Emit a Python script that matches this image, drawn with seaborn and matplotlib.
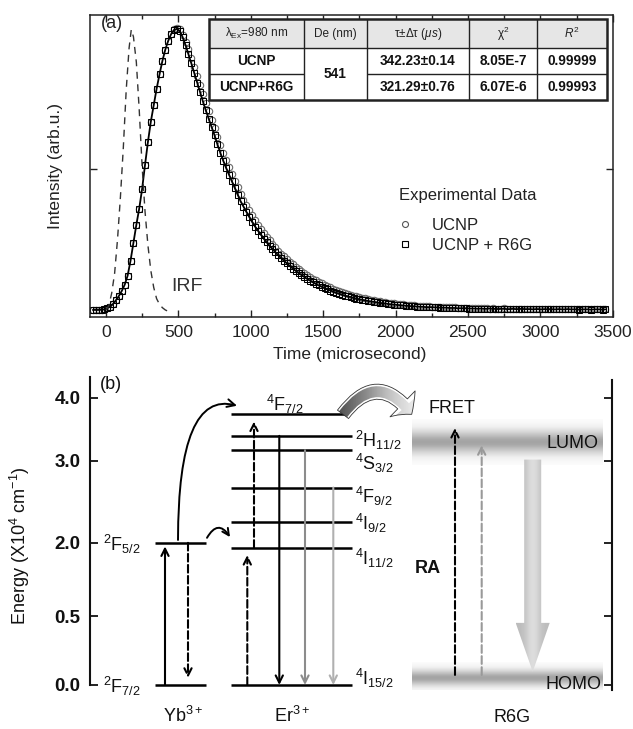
import numpy as np
import pandas as pd
import seaborn as sns
import matplotlib.pyplot as plt
from matplotlib.lines import Line2D
from matplotlib.patches import FancyArrowPatch, FancyArrow, Rectangle
from matplotlib.ticker import MultipleLocator


sns.set_theme(style='ticks')
plt.rcParams['font.family'] = ['Liberation Sans', 'DejaVu Sans']
plt.rcParams['mathtext.fontset'] = 'custom'
plt.rcParams['mathtext.rm'] = 'Liberation Sans'
plt.rcParams['mathtext.it'] = 'Liberation Sans:italic'
plt.rcParams['mathtext.bf'] = 'Liberation Sans:bold'

# ---- panel (a): decay curves ----
time_us = [-90, -70, -50, -30, -10, 10, 30, 50, 70, 90,
           110, 130, 150, 170, 190, 210, 230, 250, 270, 290,
           310, 330, 350, 370, 390, 410, 430, 450, 470, 490,
           510, 530, 550, 570, 590, 610, 630, 650, 670, 690,
           710, 730, 750, 770, 790, 810, 830, 850, 870, 890,
           910, 930, 950, 970, 990, 1010, 1030, 1050, 1070, 1090,
           1110, 1130, 1150, 1170, 1190, 1210, 1230, 1250, 1270, 1290,
           1310, 1330, 1350, 1370, 1390, 1410, 1430, 1450, 1470, 1490,
           1510, 1530, 1550, 1570, 1590, 1610, 1630, 1650, 1670, 1690,
           1710, 1730, 1750, 1770, 1790, 1810, 1830, 1850, 1870, 1890,
           1910, 1930, 1950, 1970, 1990, 2010, 2030, 2050, 2070, 2090,
           2110, 2130, 2150, 2170, 2190, 2210, 2230, 2250, 2270, 2290,
           2310, 2330, 2350, 2370, 2390, 2410, 2430, 2450, 2470, 2490,
           2510, 2530, 2550, 2570, 2590, 2610, 2630, 2650, 2670, 2690,
           2710, 2730, 2750, 2770, 2790, 2810, 2830, 2850, 2870, 2890,
           2910, 2930, 2950, 2970, 2990, 3010, 3030, 3050, 3070, 3090,
           3110, 3130, 3150, 3170, 3190, 3210, 3230, 3250, 3270, 3290,
           3310, 3330, 3350, 3370, 3390, 3410, 3430, 3450]

ucnp = [0.000, 0.000, 0.000, 0.001, 0.002, 0.006, 0.012, 0.022, 0.035, 0.050,
        0.068, 0.090, 0.122, 0.175, 0.238, 0.302, 0.360, 0.430, 0.515, 0.596,
        0.668, 0.727, 0.785, 0.836, 0.884, 0.924, 0.956, 0.980, 0.996, 1.000,
        0.996, 0.977, 0.952, 0.925, 0.894, 0.862, 0.830, 0.798, 0.766, 0.735,
        0.705, 0.675, 0.646, 0.615, 0.586, 0.558, 0.532, 0.507, 0.482, 0.458,
        0.435, 0.412, 0.392, 0.373, 0.354, 0.336, 0.319, 0.303, 0.288, 0.274,
        0.260, 0.247, 0.235, 0.223, 0.211, 0.200, 0.190, 0.180, 0.171, 0.162,
        0.154, 0.146, 0.138, 0.131, 0.124, 0.117, 0.111, 0.105, 0.099, 0.094,
        0.089, 0.084, 0.080, 0.075, 0.071, 0.067, 0.064, 0.060, 0.057, 0.054,
        0.051, 0.048, 0.046, 0.043, 0.041, 0.039, 0.036, 0.034, 0.033, 0.031,
        0.029, 0.028, 0.026, 0.025, 0.024, 0.022, 0.021, 0.020, 0.019, 0.018,
        0.017, 0.016, 0.015, 0.015, 0.014, 0.013, 0.013, 0.012, 0.011, 0.011,
        0.010, 0.010, 0.010, 0.009, 0.009, 0.009, 0.008, 0.008, 0.008, 0.007,
        0.007, 0.007, 0.006, 0.007, 0.006, 0.006, 0.006, 0.005, 0.006, 0.005,
        0.005, 0.005, 0.006, 0.005, 0.004, 0.005, 0.005, 0.004, 0.005, 0.004,
        0.004, 0.004, 0.005, 0.004, 0.004, 0.003, 0.004, 0.004, 0.003, 0.004,
        0.003, 0.004, 0.003, 0.003, 0.004, 0.003, 0.003, 0.003, 0.002, 0.003,
        0.003, 0.003, 0.002, 0.003, 0.003, 0.002, 0.003, 0.002]

ucnp_r6g = [0.000, 0.000, 0.000, 0.001, 0.002, 0.006, 0.012, 0.022, 0.035, 0.050,
            0.068, 0.090, 0.122, 0.175, 0.238, 0.302, 0.360, 0.430, 0.515, 0.596,
            0.668, 0.727, 0.785, 0.836, 0.884, 0.924, 0.955, 0.979, 0.994, 0.998,
            0.990, 0.968, 0.940, 0.908, 0.875, 0.841, 0.806, 0.773, 0.740, 0.708,
            0.678, 0.649, 0.620, 0.588, 0.558, 0.530, 0.504, 0.480, 0.456, 0.432,
            0.409, 0.386, 0.367, 0.348, 0.330, 0.312, 0.296, 0.281, 0.267, 0.253,
            0.240, 0.227, 0.216, 0.205, 0.194, 0.184, 0.174, 0.165, 0.156, 0.147,
            0.139, 0.131, 0.124, 0.117, 0.110, 0.104, 0.098, 0.092, 0.087, 0.082,
            0.077, 0.073, 0.069, 0.065, 0.061, 0.058, 0.054, 0.051, 0.048, 0.046,
            0.043, 0.040, 0.038, 0.036, 0.034, 0.032, 0.030, 0.029, 0.027, 0.025,
            0.024, 0.023, 0.021, 0.020, 0.019, 0.018, 0.017, 0.016, 0.015, 0.014,
            0.013, 0.013, 0.012, 0.011, 0.011, 0.010, 0.010, 0.010, 0.009, 0.009,
            0.008, 0.008, 0.008, 0.007, 0.007, 0.007, 0.006, 0.006, 0.006, 0.006,
            0.005, 0.005, 0.005, 0.004, 0.005, 0.004, 0.004, 0.005, 0.004, 0.004,
            0.003, 0.004, 0.004, 0.003, 0.003, 0.004, 0.003, 0.003, 0.004, 0.003,
            0.003, 0.003, 0.002, 0.003, 0.003, 0.002, 0.003, 0.002, 0.003, 0.002,
            0.002, 0.003, 0.002, 0.002, 0.003, 0.002, 0.002, 0.002, 0.001, 0.002,
            0.002, 0.002, 0.001, 0.002, 0.002, 0.002, 0.001, 0.002]

irf_time = [0, 20, 40, 60, 80, 100, 120, 140, 160, 175, 190, 210,
            230, 250, 270, 290, 310, 330, 350, 370, 390, 410, 430, 450]
irf = [0.0, 0.015, 0.06, 0.13, 0.25, 0.40, 0.575, 0.78, 0.93, 0.995, 0.97, 0.88,
       0.71, 0.51, 0.35, 0.23, 0.14, 0.08, 0.04, 0.02, 0.008, 0.0, -0.005, -0.008]

table_header = ['λ$_{\\mathrm{Ex}}$=980 nm', 'De (nm)', 'τ±Δτ ($\\mathit{μs}$)',
                'χ$^2$', '$R^2$']
samples = ['UCNP', 'UCNP+R6G']
detection_nm = '541'
tau = ['342.23±0.14', '321.29±0.76']
chi2 = ['8.05E-7', '6.07E-6']
r2 = ['0.99999', '0.99993']

# ---- panel (b): energy levels (plot units of the broken energy axis) ----
ytick_pos = [0.0, 0.96, 1.98, 3.12, 4.0]
ytick_labels = ['0.0', '0.5', '2.0', '3.0', '4.0']
yb_levels = [0.0, 1.98]
yb_names = ['$^2$F$_{7/2}$', '$^2$F$_{5/2}$']
er_levels = [0.0, 1.91, 2.27, 2.75, 3.27, 3.47, 3.77]
er_names = ['$^4$I$_{15/2}$', '$^4$I$_{11/2}$', '$^4$I$_{9/2}$', '$^4$F$_{9/2}$',
            '$^4$S$_{3/2}$', '$^2$H$_{11/2}$', '$^4$F$_{7/2}$']
r6g_levels = [0.10, 3.39]
r6g_names = ['HOMO', 'LUMO']

W, H = 633, 729
fig = plt.figure(figsize=(W / 100, H / 100), dpi=100)


def px_axes(l, t, r, b):
    return fig.add_axes([l / W, 1 - b / H, (r - l) / W, (b - t) / H])


# ================= panel (a) =================
ax = px_axes(90, 15, 612.7, 316.7)
df = pd.DataFrame({'t': time_us, 'ucnp': ucnp, 'r6g': ucnp_r6g})

sns.lineplot(data=df, x='t', y='ucnp', ax=ax, marker='o', linestyle='none',
             mfc='none', mec='#6a6a6a', mew=0.8, ms=4.6, estimator=None, sort=False)
sns.lineplot(data=df, x='t', y='r6g', ax=ax, color='black', lw=1.3,
             estimator=None, sort=False)
sns.lineplot(data=df, x='t', y='r6g', ax=ax, marker='s', linestyle='none',
             mfc='none', mec='black', mew=0.75, ms=3.7, estimator=None, sort=False)
sns.lineplot(x=irf_time, y=irf, ax=ax, color='#333333', lw=1.0,
             linestyle=(0, (5, 4)), estimator=None, sort=False)

ax.set_xlim(-110, 3500)
ax.set_ylim(-0.024, 1.047)
ax.set_xticks(range(0, 3501, 500))
ax.xaxis.set_minor_locator(MultipleLocator(250))
ax.set_yticks([0.5])
ax.set_yticklabels([])
ax.tick_params(which='both', direction='in', top=True, right=True,
               labelsize=12.5, colors='#222222', width=1.0, pad=6)
ax.tick_params(which='major', length=5)
ax.tick_params(which='minor', length=3)
for s in ax.spines.values():
    s.set_linewidth(1.1)
    s.set_color('#222222')
ax.set_xlabel('Time (microsecond)', fontsize=12.5, color='#222222')
ax.set_ylabel('Intensity (arb.u.)', fontsize=12.5, color='#222222')
ax.xaxis.set_label_coords(0.497, -0.10)
ax.yaxis.set_label_coords(-0.052, 0.5)

ax.text(0.02, 0.973, '(a)', transform=ax.transAxes, fontsize=13,
        ha='left', va='center', color='#222222')
ax.text(454, 0.083, 'IRF', fontsize=14, ha='left', va='center', color='#333333')
ax.text(0.723, 0.403, 'Experimental Data', transform=ax.transAxes,
        fontsize=12, ha='center', va='center', color='#222222')
handles = [Line2D([], [], marker='o', ls='none', mfc='none', mec='#555555',
                  mew=0.8, ms=4.3),
           Line2D([], [], marker='s', ls='none', mfc='none', mec='black',
                  mew=0.8, ms=3.8)]
ax.legend(handles, ['UCNP', 'UCNP + R6G'], loc='upper left',
          bbox_to_anchor=(0.587, 0.328), frameon=False, fontsize=12,
          borderpad=0, borderaxespad=0, handlelength=1.0, handletextpad=1.1,
          labelspacing=0.3, labelcolor='#222222')

# ---- table ----
tx = px_axes(209.3, 19.3, 607.3, 100)
tx.set_xlim(0, 398)
tx.set_ylim(80.7, 0)
tx.axis('off')
col_edges = [0, 95, 157.4, 260, 327.4, 398]
row_edges = [0, 28.4, 54.7, 80.7]
tx.add_patch(Rectangle((0, 0), 398, 80.7, fc='white', ec='none'))
tx.add_patch(Rectangle((0, 0), 398, 28.4, fc='#e6e6e6', ec='none'))
tx.vlines(col_edges[1:-1], 0, 80.7, color='#222222', lw=1.0)
tx.hlines(row_edges[1], 0, 398, color='#222222', lw=1.0)
tx.hlines([row_edges[2], row_edges[2]], [0, 157.4], [95, 398],
          color='#222222', lw=1.0)
tx.add_patch(Rectangle((0, 0), 398, 80.7, fc='none', ec='#222222', lw=1.8,
                       clip_on=False))
centers = [(a + b) / 2 for a, b in zip(col_edges[:-1], col_edges[1:])]
for cx, txt in zip(centers, table_header):
    tx.text(cx, 14.2, txt, ha='center', va='center', fontsize=8.5, color='#222222')
for i, name in enumerate(samples):
    cy = (row_edges[i + 1] + row_edges[i + 2]) / 2
    for cx, txt in zip([centers[0], centers[2], centers[3], centers[4]],
                       [name, tau[i], chi2[i], r2[i]]):
        tx.text(cx, cy, txt, ha='center', va='center', fontsize=9.8,
                fontweight='bold', color='#111111')
tx.text(centers[1], row_edges[2], detection_nm, ha='center', va='center',
        fontsize=9.8, fontweight='bold', color='#111111')

# ================= panel (b) =================
bx = px_axes(90, 377, 611.7, 690)

# R6G bands (vertical grey gradient)
u = np.linspace(-1, 1, 121)
band = np.exp(-(u / 0.6) ** 2)[:, None]
for c, h in zip(r6g_levels, [0.22, 0.32]):
    bx.imshow(band, extent=[411.7, 601.7, c - h, c + h], cmap='Greys',
              vmin=0, vmax=2.2, aspect='auto', origin='lower', zorder=0)

# level lines
bx.hlines(yb_levels, 155, 205.7, color='black', lw=1.8)
bx.hlines(er_levels[:-1], 231, 351.7, color='black', lw=1.8)
bx.hlines(er_levels[-1], 231, 345, color='black', lw=1.8)


def arrow(x, y0, y1, color='black', ls='-'):
    bx.annotate('', xy=(x, y1), xytext=(x, y0),
                arrowprops=dict(arrowstyle='->', lw=1.5, color=color,
                                linestyle=ls, shrinkA=0, shrinkB=0,
                                mutation_scale=13))


arrow(165, yb_levels[0], yb_levels[1] - 0.05)
arrow(188, yb_levels[1], yb_levels[0] + 0.10, ls='--')
arrow(247.3, er_levels[0], er_levels[1] - 0.10, ls='--')
arrow(254, er_levels[1], er_levels[6] - 0.10, ls='--')
arrow(279.3, er_levels[5], er_levels[0])
arrow(305, er_levels[4], er_levels[0], color='#8c8c8c')
arrow(333.3, er_levels[3], er_levels[0], color='#b0b0b0')
arrow(455, r6g_levels[0] + 0.04, r6g_levels[1] + 0.19, ls='--')
arrow(481.7, r6g_levels[0] + 0.04, r6g_levels[1] - 0.05, color='#999999', ls='--')

# energy transfer Yb -> Er
bx.annotate('', xy=(237, 3.89), xytext=(178, yb_levels[1] + 0.04),
            arrowprops=dict(arrowstyle='->', lw=1.4, color='black',
                            connectionstyle='angle3,angleA=90,angleB=-15',
                            shrinkA=0, shrinkB=0, mutation_scale=14))
bx.annotate('', xy=(230, 2.06), xytext=(207, yb_levels[1] + 0.07),
            arrowprops=dict(arrowstyle='->', lw=1.4, color='black',
                            connectionstyle='arc3,rad=-0.8',
                            shrinkA=0, shrinkB=0, mutation_scale=12))

# FRET arrow with gradient fill
fret = FancyArrowPatch(posA=(343, er_levels[-1]), posB=(411.7, er_levels[-1]),
                       arrowstyle='simple,head_length=1.0,head_width=2.6,tail_width=1.0',
                       connectionstyle='arc3,rad=-0.66', mutation_scale=10,
                       fc='none', ec='#333333', lw=0.6, shrinkA=0, shrinkB=0,
                       zorder=4)
bx.add_patch(fret)
im = bx.imshow(np.linspace(0.78, 0.02, 60)[None, :], extent=[335, 432, 3.6, 4.4],
               cmap='Greys', vmin=0, vmax=1, aspect='auto', zorder=3)
im.set_clip_path(fret)

# big relaxation arrow in R6G
big = FancyArrow(532.7, 3.14, 0, 0.185 - 3.14, width=17, head_width=34,
                 head_length=0.68, length_includes_head=True, fc='none',
                 ec='none', zorder=2)
bx.add_patch(big)
gv = 0.38 - 0.15 * np.exp(-(np.linspace(-1, 1, 60) / 0.45) ** 2)
im2 = bx.imshow(gv[None, :], extent=[516, 550, 0.185, 3.14], cmap='Greys',
                vmin=0, vmax=1, aspect='auto', zorder=2)
im2.set_clip_path(big)

# labels
lab = dict(fontsize=13, color='#111111')
bx.text(285, 3.82, er_names[6], ha='center', va='baseline', **lab)
er_label_y = [0.0, 1.67, 2.16, 2.53, 3.0, 3.32]
for y, name in zip(er_label_y, er_names[:-1]):
    bx.text(355, y, name, ha='left', va='baseline', **lab)
for y, name in zip([-0.11, 1.86], yb_names):
    bx.text(102.7, y, name, ha='left', va='baseline', **lab)
bx.text(599, 3.30, r6g_names[1], ha='right', va='baseline', **lab)
bx.text(601.7, -0.05, r6g_names[0], ha='right', va='baseline', **lab)
bx.text(429, 3.79, 'FRET', ha='left', va='baseline', **lab)
bx.text(415, 1.56, 'RA', ha='left', va='baseline', fontweight='bold', **lab)
bx.text(100, 4.18, '(b)', ha='left', va='center', **lab)
for x, name in zip([183, 292, 511.7], ['Yb$^{3+}$', 'Er$^{3+}$', 'R6G']):
    bx.text(x, -0.52, name, ha='center', va='baseline', clip_on=False, **lab)

bx.set_xlim(90, 611.7)
bx.set_ylim(-0.07, 4.29)
bx.set_xticks([])
bx.set_yticks(ytick_pos)
bx.set_yticklabels(ytick_labels, fontweight='bold')
bx.tick_params(axis='y', direction='in', left=True, right=True, length=6,
               width=1.3, labelsize=13.5, pad=7, colors='#111111')
bx.spines['top'].set_visible(False)
bx.spines['bottom'].set_visible(False)
for s in ['left', 'right']:
    bx.spines[s].set_linewidth(1.5)
    bx.spines[s].set_color('#111111')
bx.spines['left'].set_bounds(0, 4.29)
bx.spines['right'].set_bounds(-0.07, 4.25)
bx.set_ylabel('Energy (X10$^4$ cm$^{-1}$)', fontsize=13, color='#111111')
bx.yaxis.set_label_coords(-0.111, 0.46)

fig.savefig('out.png', dpi=100)
